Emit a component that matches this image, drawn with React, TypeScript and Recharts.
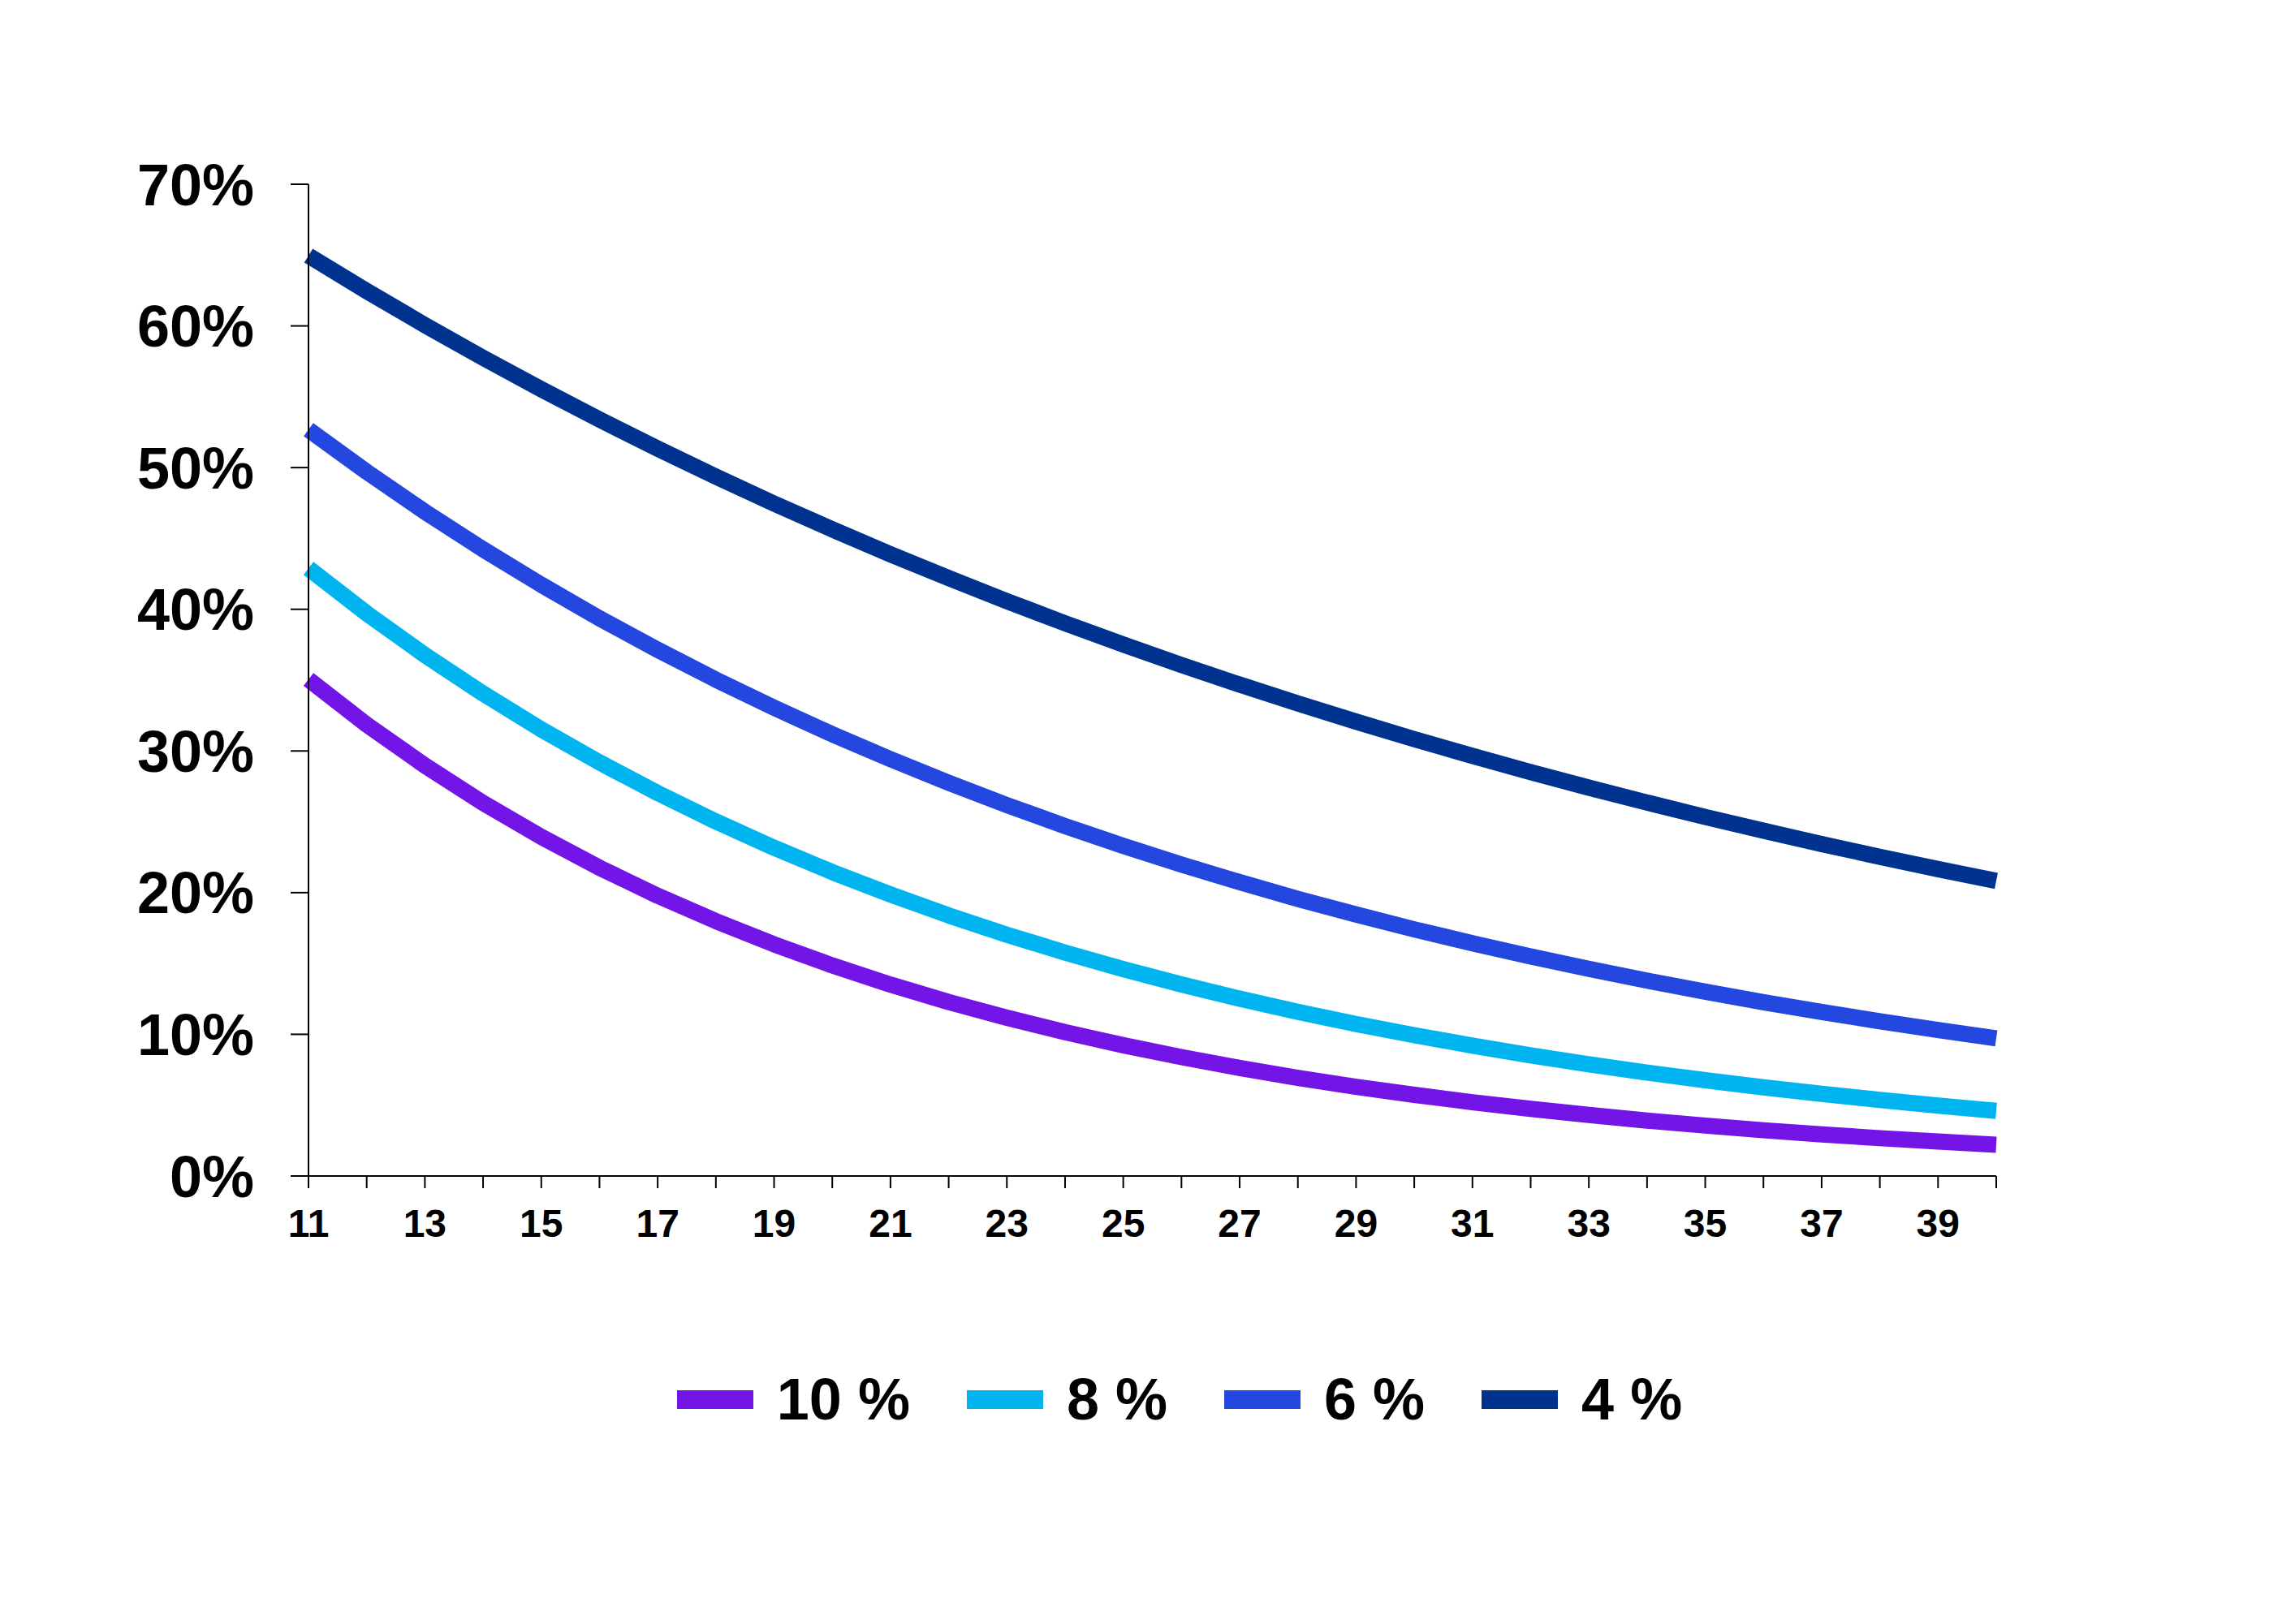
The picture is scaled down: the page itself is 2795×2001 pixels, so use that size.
import { LineChart, Line, XAxis, YAxis, Legend } from "recharts";

// ages / periods on the x axis
const periods = [
  11, 12, 13, 14, 15, 16, 17, 18, 19, 20,
  21, 22, 23, 24, 25, 26, 27, 28, 29, 30,
  31, 32, 33, 34, 35, 36, 37, 38, 39, 40,
];

// values in %
const rate10 = [
  35.05, 31.86, 28.97, 26.33, 23.94, 21.76, 19.78, 17.99, 16.35, 14.86,
  13.51, 12.28, 11.17, 10.15, 9.23, 8.39, 7.63, 6.93, 6.3, 5.73,
  5.21, 4.74, 4.31, 3.91, 3.56, 3.23, 2.94, 2.67, 2.43, 2.21,
];
const rate8 = [
  42.89, 39.71, 36.77, 34.05, 31.52, 29.19, 27.03, 25.02, 23.17, 21.45,
  19.87, 18.39, 17.03, 15.77, 14.6, 13.52, 12.52, 11.59, 10.73, 9.94,
  9.2, 8.52, 7.89, 7.3, 6.76, 6.26, 5.8, 5.37, 4.97, 4.6,
];
const rate6 = [
  52.68, 49.7, 46.88, 44.23, 41.73, 39.36, 37.14, 35.03, 33.05, 31.18,
  29.42, 27.75, 26.18, 24.7, 23.3, 21.98, 20.74, 19.56, 18.46, 17.41,
  16.43, 15.5, 14.62, 13.79, 13.01, 12.27, 11.58, 10.92, 10.31, 9.72,
];
const rate4 = [
  64.96, 62.46, 60.06, 57.75, 55.53, 53.39, 51.34, 49.36, 47.46, 45.64,
  43.88, 42.2, 40.57, 39.01, 37.51, 36.07, 34.68, 33.35, 32.07, 30.83,
  29.65, 28.51, 27.41, 26.36, 25.34, 24.37, 23.43, 22.53, 21.66, 20.83,
];

const yTicks = [0, 10, 20, 30, 40, 50, 60, 70];

const series = [
  { key: "r10", label: "10 %", color: "#7415E8", values: rate10 },
  { key: "r8", label: "8 %", color: "#00B5EF", values: rate8 },
  { key: "r6", label: "6 %", color: "#2347DF", values: rate6 },
  { key: "r4", label: "4 %", color: "#00338F", values: rate4 },
];

const data = periods.map((p, i) => {
  const row: Record<string, number> = { period: p };
  series.forEach(s => { row[s.key] = s.values[i]; });
  return row;
});

const FONT = "'Liberation Sans', Arial, sans-serif";

function LegendContent() {
  return (
    <div style={{
      display: "flex", justifyContent: "center", alignItems: "center",
      gap: 70, paddingLeft: 447, height: 60, fontFamily: FONT,
    }}>
      {series.map(s => (
        <div key={s.key} style={{ display: "flex", alignItems: "center" }}>
          <div style={{ width: 94, height: 23, background: s.color, marginRight: 29 }} />
          <span style={{ fontSize: 72, fontWeight: 700, color: "#000", lineHeight: "60px" }}>{s.label}</span>
        </div>
      ))}
    </div>
  );
}

export default function App() {
  return (
    <div style={{ position: "absolute", left: 0, top: 0, width: 2795, height: 2001, background: "#fff", fontFamily: FONT }}>
      <LineChart width={2795} height={2001} data={data} margin={{ top: 227, right: 336, bottom: 247, left: 0 }}>
        <XAxis
          dataKey="period"
          interval={0}
          height={245}
          tickSize={15}
          tickMargin={26}
          tickFormatter={(v: number) => (v % 2 === 1 ? String(v) : "")}
          axisLine={{ stroke: "#000", strokeWidth: 2 }}
          tickLine={{ stroke: "#000", strokeWidth: 2 }}
          tick={{ fontSize: 48, fontWeight: 700, fill: "#000", fontFamily: FONT }}
        />
        <YAxis
          domain={[0, 70]}
          ticks={yTicks}
          width={380}
          tickSize={22}
          tickMargin={45}
          tickFormatter={(v: number) => `${v}%`}
          axisLine={{ stroke: "#000", strokeWidth: 2 }}
          tickLine={{ stroke: "#000", strokeWidth: 2 }}
          tick={{ fontSize: 72, fontWeight: 700, fill: "#000", fontFamily: FONT }}
        />
        <Legend verticalAlign="bottom" height={60} content={<LegendContent />} />
        {series.map(s => (
          <Line
            key={s.key}
            type="linear"
            dataKey={s.key}
            name={s.label}
            stroke={s.color}
            strokeWidth={20}
            strokeLinejoin="round"
            dot={false}
            activeDot={false}
            isAnimationActive={false}
          />
        ))}
      </LineChart>
    </div>
  );
}
